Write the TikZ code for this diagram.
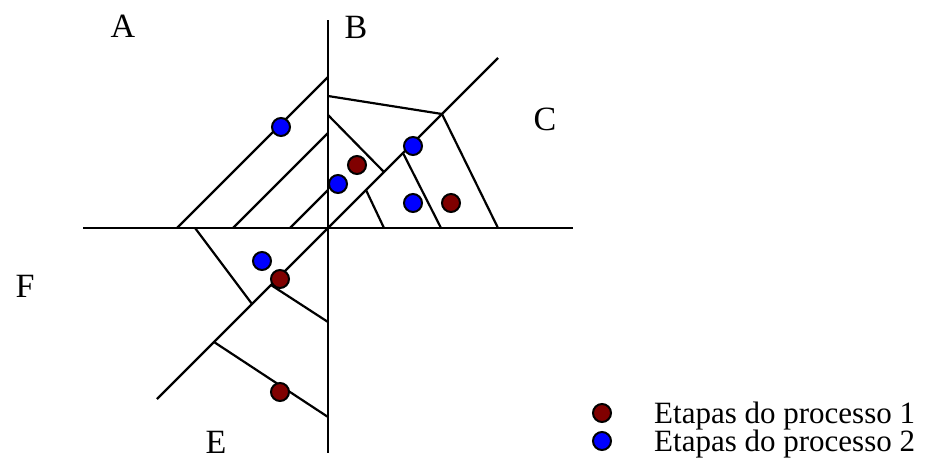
\documentclass[tikz,border=0pt]{standalone}
\usepackage{fontspec}
\setmainfont{Liberation Serif}
\begin{document}
\begin{tikzpicture}[x=1pt,y=-1pt,
  ln/.style={line width=2.2pt},
  dot/.style={circle,draw=black,line width=2pt,minimum size=18pt,inner sep=0pt},
  red1/.style={dot,fill=red!50!black},
  blue2/.style={dot,fill=blue},
  lbl/.style={font=\fontsize{34}{40}\selectfont,anchor=base,inner sep=0pt},
  leg/.style={font=\fontsize{31}{36}\selectfont,anchor=base west,inner sep=0pt}]
\useasboundingbox (0,0) rectangle (938,463);
% axes
\coordinate (O) at (328,228);
\coordinate (vt) at (328,20);
\coordinate (vb) at (328,453);
\coordinate (hl) at (83,228);
\coordinate (hr) at (573,228);
\coordinate (ne) at (498,58);
\coordinate (sw) at (157,399);
\draw[ln] (vt) -- (vb);
\draw[ln] (hl) -- (hr);
\draw[ln] (ne) -- (sw);
% upper left parallels
\coordinate (a1) at (328,77);  \coordinate (a2) at (177,228);
\coordinate (b1) at (328,133); \coordinate (b2) at (233,228);
\coordinate (c1) at (328,190); \coordinate (c2) at (290,228);
\draw[ln] (a1) -- (a2);
\draw[ln] (b1) -- (b2);
\draw[ln] (c1) -- (c2);
% upper right
\coordinate (d1) at (328,96);  \coordinate (J1) at (442,114); \coordinate (d3) at (498,228);
\draw[ln] (d1) -- (J1) -- (d3);
\coordinate (e1) at (328,115); \coordinate (J2) at (384,172);
\draw[ln] (e1) -- (J2);
\coordinate (J3) at (403,153); \coordinate (f2) at (441,228);
\draw[ln] (J3) -- (f2);
\coordinate (J4) at (366,190); \coordinate (g2) at (384,228);
\draw[ln] (J4) -- (g2);
% lower left
\coordinate (h1) at (195,228); \coordinate (J5) at (252,304);
\draw[ln] (h1) -- (J5);
\coordinate (J6) at (271,285); \coordinate (i2) at (328,322);
\draw[ln] (J6) -- (i2);
\coordinate (J7) at (214,342); \coordinate (k2) at (328,417);
\draw[ln] (J7) -- (k2);
% dots
\node[blue2] (p1) at (281,127) {};
\node[red1]  (p2) at (357,165) {};
\node[blue2] (p3) at (338,184) {};
\node[blue2] (p4) at (413,146) {};
\node[blue2] (p5) at (413,203) {};
\node[red1]  (p6) at (451,203) {};
\node[blue2] (p7) at (262,261) {};
\node[red1]  (p8) at (280,279) {};
\node[red1]  (p9) at (280,392) {};
% labels
\node[lbl] (A) at (123,37) {A};
\node[lbl] (B) at (356,38) {B};
\node[lbl] (C) at (545,130) {C};
\node[lbl] (F) at (25,297) {F};
\node[lbl] (E) at (216,453) {E};
% legend
\node[red1] (l1) at (602,413) {};
\node[blue2] (l2) at (602,441) {};
\node[leg] (t1) at (654,423) {Etapas do processo 1};
\node[leg] (t2) at (654,451) {Etapas do processo 2};
\end{tikzpicture}
\end{document}
